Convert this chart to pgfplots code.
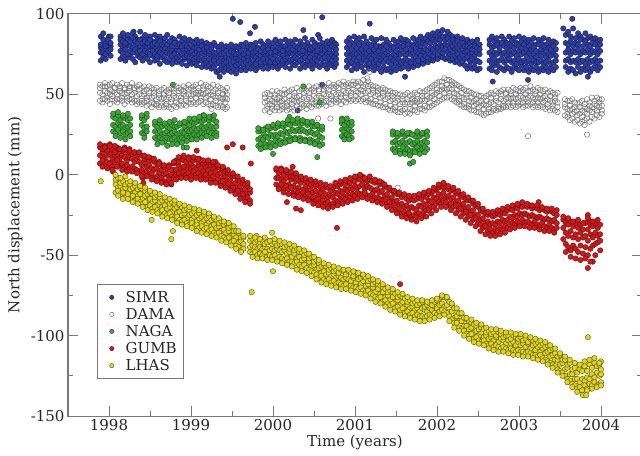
\documentclass[border=0pt]{standalone}
\usepackage{fontspec}
\setmainfont{DejaVu Serif}
\usepackage{pgfplots}
\pgfplotsset{compat=1.18}
\usepackage{pgfplotstable}

\definecolor{simr}{RGB}{45,62,160}
\definecolor{simrd}{RGB}{20,25,80}
\definecolor{naga}{RGB}{60,165,55}
\definecolor{nagad}{RGB}{25,70,20}
\definecolor{gumb}{RGB}{210,25,25}
\definecolor{gumbd}{RGB}{90,10,10}
\definecolor{lhas}{RGB}{225,215,25}
\definecolor{lhasd}{RGB}{70,65,10}
\definecolor{axgray}{RGB}{120,120,120}

\pgfplotstableread{
t a b c d e
1997.90 79 86 71 81 76
1997.93 78 88 73 84 76
1997.96 78 82 72 80 75
1997.99 80 85 76 84 77
1998.02 80 86 74 82 78
1998.14 81 86 72 84 77
1998.17 79 88 74 83 76
1998.20 80 85 71 82 78
1998.23 81 87 73 84 75
1998.26 80 84 75 83 77
1998.29 79 88 72 85 76
1998.32 82 86 70 83 78
1998.35 79 84 74 82 76
1998.38 80 89 73 84 77
1998.41 78 85 71 82 75
1998.44 81 87 74 83 77
1998.47 79 84 72 82 76
1998.50 80 86 70 84 75
1998.53 78 83 74 81 77
1998.56 79 87 71 82 75
1998.59 77 84 72 81 74
1998.62 80 86 69 83 76
1998.65 78 83 73 81 75
1998.68 79 85 71 82 74
1998.71 77 87 70 81 76
1998.74 80 83 72 83 75
1998.77 78 85 69 80 74
1998.80 76 84 72 82 75
1998.83 78 82 70 80 73
1998.86 77 86 71 81 74
1998.89 79 83 69 80 75
1998.92 76 85 72 81 73
1998.95 78 82 68 80 74
1998.98 76 84 71 79 73
1999.01 77 83 69 80 73
1999.04 75 82 70 79 72
1999.07 77 84 68 79 73
1999.10 75 81 71 78 72
1999.13 76 83 67 80 71
1999.16 74 81 69 78 72
1999.19 76 82 67 79 71
1999.22 75 81 68 77 72
1999.25 73 80 66 78 70
1999.28 75 82 67 76 71
1999.31 72 80 64 76 69
1999.34 74 79 65 77 70
1999.37 73 81 66 75 68
1999.40 71 78 64 76 69
1999.43 73 80 67 77 70
1999.46 72 79 65 75 68
1999.49 74 81 64 77 69
1999.52 72 78 66 76 70
1999.55 73 80 63 75 68
1999.58 71 79 66 76 69
1999.61 74 81 65 77 70
1999.64 72 80 67 75 69
1999.67 74 82 65 77 70
1999.70 73 79 67 76 71
1999.73 75 81 66 78 70
1999.76 74 80 68 76 71
1999.79 73 82 65 77 69
1999.82 75 79 67 78 71
1999.85 74 83 68 77 70
1999.88 76 81 66 79 72
1999.91 74 80 69 77 70
1999.94 75 83 66 78 71
1999.97 73 80 68 76 70
2000.00 76 82 67 79 72
2000.03 74 84 69 77 70
2000.06 76 81 66 79 71
2000.09 75 83 68 78 72
2000.12 74 80 69 77 71
2000.15 77 84 67 80 72
2000.18 75 81 70 78 73
2000.21 76 83 66 79 71
2000.24 75 81 69 78 72
2000.27 77 84 68 80 73
2000.30 75 80 70 79 72
2000.33 76 83 66 78 71
2000.36 74 81 69 77 72
2000.39 77 85 67 80 73
2000.42 75 82 70 79 71
2000.45 76 80 68 78 73
2000.48 75 84 66 79 71
2000.51 77 82 69 80 72
2000.54 74 81 68 77 71
2000.57 76 85 67 80 73
2000.60 75 82 69 79 72
2000.63 77 80 68 78 73
2000.66 75 83 66 79 71
2000.69 76 81 69 78 72
2000.72 74 84 68 80 71
2000.75 76 82 67 79 73
2000.77 75 81 69 78 72
2000.90 75 83 67 79 71
2000.93 77 85 69 81 73
2000.96 74 82 65 78 70
2000.99 76 86 68 80 72
2001.02 75 83 66 79 71
2001.05 77 85 69 81 73
2001.08 74 82 67 78 70
2001.11 76 86 64 80 72
2001.14 75 83 68 79 71
2001.17 73 81 66 77 69
2001.20 76 85 67 80 72
2001.23 74 82 65 78 70
2001.26 76 84 68 80 71
2001.29 73 80 66 77 69
2001.32 75 85 64 79 71
2001.35 74 81 67 78 70
2001.38 76 84 65 80 72
2001.41 74 82 66 77 70
2001.44 73 80 64 78 69
2001.47 75 84 67 79 71
2001.50 74 81 65 77 70
2001.53 76 83 68 80 72
2001.56 75 85 66 79 70
2001.59 76 82 67 80 71
2001.62 74 84 69 78 72
2001.65 77 83 66 81 71
2001.68 75 81 68 78 70
2001.71 76 85 67 80 72
2001.74 77 82 69 79 73
2001.77 75 84 68 81 71
2001.80 78 86 70 80 74
2001.83 76 83 69 82 72
2001.86 78 85 71 81 74
2001.89 77 87 70 83 73
2001.92 79 85 72 82 75
2001.95 78 88 71 84 74
2001.98 80 86 73 83 76
2002.01 79 89 72 85 75
2002.04 81 87 74 84 77
2002.07 80 90 73 86 76
2002.10 81 86 72 84 78
2002.13 80 89 73 85 76
2002.16 79 87 71 83 75
2002.19 80 86 72 84 76
2002.22 78 84 70 82 74
2002.25 79 86 71 83 75
2002.28 77 83 69 81 73
2002.31 78 85 70 82 74
2002.34 76 82 68 80 72
2002.37 77 84 66 80 73
2002.40 75 82 68 79 71
2002.43 76 83 66 78 72
2002.46 74 81 67 80 70
2002.49 76 84 65 79 71
2002.52 75 81 66 78 70
2002.64 76 84 66 81 71
2002.67 74 86 65 79 69
2002.70 76 83 68 80 72
2002.73 75 85 64 81 70
2002.76 77 82 67 79 71
2002.79 75 86 66 82 72
2002.82 76 84 65 80 70
2002.85 74 82 67 79 71
2002.88 77 86 66 81 72
2002.91 75 83 64 80 70
2002.94 76 85 67 79 71
2002.97 74 82 66 81 69
2003.00 77 86 65 80 72
2003.03 75 83 68 79 70
2003.06 76 85 65 81 71
2003.09 74 82 67 78 70
2003.12 76 84 64 80 71
2003.15 74 82 66 78 69
2003.18 75 85 65 79 71
2003.21 73 81 67 77 70
2003.24 76 84 64 81 70
2003.27 74 82 66 78 71
2003.30 76 85 65 80 69
2003.33 73 81 67 77 70
2003.36 75 84 64 79 71
2003.39 74 81 66 78 69
2003.42 76 83 65 80 70
2003.45 74 82 67 78 71
2003.57 76 87 67 82 71
2003.60 78 89 64 81 72
2003.63 75 86 66 83 70
2003.66 77 91 65 80 71
2003.69 76 85 63 82 70
2003.72 78 88 67 81 72
2003.75 75 86 64 84 70
2003.78 77 84 66 80 71
2003.81 76 88 65 83 69
2003.84 78 85 67 81 72
2003.87 75 86 64 80 70
2003.90 77 84 66 82 71
2003.93 76 85 68 81 72
2003.96 75 83 65 79 70
2003.99 77 84 67 81 71
1999.51 97 nan nan nan nan
1999.60 95 nan nan nan nan
1999.78 92 nan nan nan nan
1999.72 88 nan nan nan nan
2000.60 98 nan nan nan nan
2000.55 87 nan nan nan nan
2000.37 90 nan nan nan nan
1999.35 61 nan nan nan nan
1999.32 64 nan nan nan nan
2000.30 40 nan nan nan nan
2000.60 56 nan nan nan nan
2003.65 97 nan nan nan nan
2003.54 91 nan nan nan nan
2001.18 94 nan nan nan nan
2003.11 59 nan nan nan nan
2002.68 58 nan nan nan nan
2003.84 61 nan nan nan nan
2001.61 61 nan nan nan nan
1998.30 89 nan nan nan nan
1998.00 86 nan nan nan nan
}\simrtab

\pgfplotstableread{
t a b c d
1997.89 51 56 46 54
1997.92 50 55 45 47
1997.95 52 57 47 55
1997.98 51 55 46 48
1998.01 50 56 44 53
1998.04 52 57 47 49
1998.07 51 54 46 54
1998.10 50 56 45 47
1998.13 52 55 47 54
1998.16 51 57 46 48
1998.19 50 54 44 53
1998.22 51 56 46 48
1998.25 52 55 47 54
1998.28 50 57 45 47
1998.31 51 54 46 53
1998.34 49 55 44 46
1998.37 50 56 45 53
1998.40 49 54 44 46
1998.43 50 55 45 52
1998.46 48 53 43 46
1998.49 49 55 44 51
1998.52 48 54 42 45
1998.55 49 53 44 51
1998.58 47 54 43 44
1998.61 48 52 42 50
1998.64 47 53 43 45
1998.67 48 54 42 50
1998.70 47 52 43 44
1998.73 48 53 42 51
1998.76 47 54 41 45
1998.79 49 53 43 51
1998.82 48 55 42 45
1998.85 49 54 44 52
1998.88 48 53 43 46
1998.91 50 55 44 52
1998.94 49 54 43 46
1998.97 50 56 45 53
1999.00 49 54 44 47
1999.03 50 55 45 53
1999.06 51 56 44 48
1999.09 50 54 45 52
1999.12 51 57 46 48
1999.15 50 55 44 53
1999.18 51 56 45 48
1999.21 49 55 44 52
1999.24 50 54 43 47
1999.27 49 56 44 52
1999.30 48 53 43 46
1999.33 49 55 42 51
1999.36 48 54 43 45
1999.39 47 53 42 50
1999.42 48 52 41 45
1999.44 47 54 42 50
1999.90 45 50 40 48
1999.93 46 51 41 43
1999.96 44 50 39 47
1999.99 46 52 41 43
2000.02 45 50 40 48
2000.05 47 52 42 44
2000.08 45 51 40 48
2000.11 46 50 41 43
2000.14 47 53 42 50
2000.17 45 51 40 43
2000.20 46 52 41 49
2000.23 47 53 42 44
2000.26 46 51 40 49
2000.29 48 54 43 45
2000.32 46 52 41 49
2000.35 47 53 42 44
2000.38 48 54 43 51
2000.41 47 52 41 44
2000.44 48 55 43 51
2000.47 47 53 42 45
2000.50 49 54 44 52
2000.53 48 55 43 45
2000.56 49 53 43 52
2000.59 48 56 44 46
2000.62 50 55 45 53
2000.65 49 54 43 46
2000.68 50 57 45 53
2000.71 49 55 44 47
2000.74 51 56 46 54
2000.77 50 55 45 47
2000.80 51 57 46 54
2000.83 50 56 44 48
2000.86 52 58 46 55
2000.89 51 56 45 48
2000.92 52 57 47 55
2000.95 51 56 46 49
2000.98 53 58 47 56
2001.01 52 57 46 49
2001.04 51 58 47 55
2001.07 53 57 46 50
2001.10 52 59 47 55
2001.13 51 56 45 48
2001.16 52 58 46 55
2001.19 50 56 45 47
2001.22 51 55 44 53
2001.25 49 55 44 46
2001.28 50 54 43 52
2001.31 48 53 43 45
2001.34 49 54 42 51
2001.37 47 53 42 44
2001.40 48 52 41 50
2001.43 46 52 40 43
2001.46 47 51 41 49
2001.49 45 51 40 42
2001.52 46 50 39 48
2001.55 44 50 39 41
2001.58 45 49 40 47
2001.61 44 50 38 41
2001.64 45 51 39 47
2001.67 44 49 38 41
2001.70 45 50 40 47
2001.73 46 51 40 43
2001.76 45 50 39 47
2001.79 46 52 41 43
2001.82 47 51 41 49
2001.85 46 52 40 43
2001.88 47 53 42 49
2001.91 48 54 42 45
2001.94 49 55 43 51
2001.97 50 56 44 47
2002.00 51 57 45 53
2002.03 52 58 46 49
2002.06 53 58 47 55
2002.09 54 60 48 51
2002.12 53 59 48 56
2002.15 54 59 49 51
2002.18 53 58 47 56
2002.21 51 57 46 48
2002.24 50 56 45 53
2002.27 49 55 44 46
2002.30 48 54 43 51
2002.33 47 53 42 44
2002.36 48 52 42 50
2002.39 46 52 41 43
2002.42 45 51 40 48
2002.45 46 50 40 43
2002.48 44 50 39 47
2002.51 45 49 39 42
2002.54 43 49 38 46
2002.57 44 48 37 41
2002.60 43 49 38 46
2002.63 44 50 39 41
2002.66 45 51 39 48
2002.69 44 50 40 41
2002.72 46 52 40 48
2002.75 45 51 41 42
2002.78 47 52 41 50
2002.81 46 53 42 43
2002.84 47 51 42 50
2002.87 48 53 43 45
2002.90 47 52 42 50
2002.93 48 54 43 45
2002.96 47 53 42 50
2002.99 48 52 43 45
2003.02 49 54 44 52
2003.05 48 53 42 45
2003.08 47 54 43 50
2003.11 48 52 43 45
2003.14 49 55 44 52
2003.17 48 53 42 45
2003.20 47 52 43 50
2003.23 48 54 42 45
2003.26 47 53 43 50
2003.29 48 52 42 45
2003.32 46 53 41 49
2003.35 47 51 42 44
2003.38 46 52 40 49
2003.41 45 51 41 43
2003.44 46 50 40 48
2003.47 45 51 39 42
2003.56 42 47 37 44
2003.59 41 46 36 38
2003.62 40 46 34 43
2003.65 41 47 35 38
2003.68 39 45 33 42
2003.71 40 44 34 37
2003.74 38 45 32 42
2003.77 40 46 33 36
2003.80 39 44 34 42
2003.83 41 47 35 38
2003.86 40 45 33 43
2003.89 42 48 36 39
2003.92 41 46 35 44
2003.95 43 48 37 40
2003.98 42 47 36 45
2004.01 43 47 38 40
2003.11 24 nan nan nan
2003.83 25 nan nan nan
2003.80 31 nan nan nan
2001.18 64 nan nan nan
2001.15 60 nan nan nan
2000.55 35 nan nan nan
2000.70 35 nan nan nan
1999.25 41 nan nan nan
2001.52 -8 nan nan nan
}\damatab

\pgfplotstableread{
t a b c d
1998.05 31 36 27 38
1998.08 30 35 26 24
1998.11 32 37 28 39
1998.14 30 34 26 23
1998.17 31 36 27 37
1998.20 29 35 25 22
1998.23 30 34 26 38
1998.26 31 35 27 24
1998.40 31 35 26 37
1998.43 29 34 25 23
1998.46 30 36 27 38
1998.56 27 31 23 33
1998.59 26 30 22 19
1998.62 27 32 23 34
1998.65 25 30 22 20
1998.68 26 31 21 32
1998.71 27 30 23 18
1998.74 25 29 22 33
1998.77 26 31 22 19
1998.80 27 30 23 34
1998.83 25 30 21 19
1998.86 26 31 22 32
1998.89 27 32 23 20
1998.92 26 30 22 33
1998.95 28 32 24 21
1998.98 27 31 23 35
1999.01 28 33 24 22
1999.04 29 32 25 35
1999.07 28 33 24 22
1999.10 29 34 25 36
1999.13 30 33 26 23
1999.16 29 34 25 37
1999.19 30 35 26 24
1999.22 31 34 27 36
1999.25 30 35 26 23
1999.28 29 34 25 37
1999.31 30 33 26 24
1999.82 22 27 18 29
1999.85 23 28 19 16
1999.88 22 26 17 28
1999.91 24 29 19 17
1999.94 23 28 18 30
1999.97 25 29 20 17
2000.00 24 30 19 31
2000.03 25 29 21 18
2000.06 24 30 20 32
2000.09 26 31 21 19
2000.12 25 30 20 32
2000.15 27 31 22 20
2000.18 26 32 21 34
2000.21 27 31 23 21
2000.24 28 33 22 34
2000.27 27 32 23 22
2000.30 28 33 22 35
2000.33 27 31 23 21
2000.36 28 32 22 34
2000.39 27 33 22 21
2000.42 26 31 21 33
2000.45 27 32 22 20
2000.48 26 30 21 33
2000.51 25 30 20 19
2000.54 26 31 21 31
2000.57 24 29 19 18
2000.60 23 28 19 30
2000.84 28 32 24 34
2000.87 27 31 23 22
2000.90 29 33 25 35
2000.93 28 32 24 22
2000.96 27 31 23 33
2001.46 20 25 16 27
2001.49 21 26 16 14
2001.52 19 24 15 26
2001.55 20 25 15 13
2001.58 21 26 17 27
2001.61 19 24 14 13
2001.64 20 25 16 26
2001.67 21 26 15 12
2001.70 19 25 14 25
2001.73 20 24 16 14
2001.76 21 26 17 27
2001.79 19 24 15 13
2001.82 20 25 16 26
2001.85 21 26 17 14
2001.88 20 24 16 27
1998.78 56 nan nan nan
1998.91 17 nan nan nan
1998.95 17 nan nan nan
2000.00 13 nan nan nan
2000.54 11 nan nan nan
2001.67 7 nan nan nan
2001.71 8 nan nan nan
2000.37 55 nan nan nan
2000.57 45 nan nan nan
2000.20 36 nan nan nan
2000.84 35 nan nan nan
1999.25 36 nan nan nan
1999.15 37 nan nan nan
}\nagatab

\pgfplotstableread{
t a b c d
1997.89 12 17 7 19
1997.92 14 16 9 5
1997.95 11 18 6 17
1997.98 12 15 8 4
1998.01 13 19 7 18
1998.04 10 16 5 3
1998.07 12 14 8 18
1998.10 13 17 9 5
1998.13 10 16 6 16
1998.16 12 15 7 3
1998.19 11 17 5 16
1998.22 9 14 6 2
1998.25 11 16 4 15
1998.28 10 13 5 2
1998.31 8 14 4 14
1998.34 10 12 3 1
1998.37 8 13 2 14
1998.40 6 12 3 -1
1998.43 8 10 1 12
1998.46 5 11 2 -1
1998.49 6 9 0 11
1998.52 4 10 1 -3
1998.55 3 8 -2 10
1998.58 4 7 -1 -4
1998.61 1 8 -3 7
1998.64 3 6 -2 -5
1998.67 0 5 -4 6
1998.70 1 4 -5 -6
1998.73 -1 6 -3 5
1998.76 0 3 -6 -5
1998.79 3 7 -2 8
1998.82 3 9 0 -3
1998.85 6 8 1 11
1998.88 4 10 -1 -2
1998.91 5 9 2 12
1998.94 3 8 0 -2
1998.97 6 11 1 10
1999.00 4 7 -1 -3
1999.03 5 9 2 11
1999.06 3 10 0 -2
1999.09 6 8 1 10
1999.12 4 9 -1 -3
1999.15 2 7 -2 9
1999.18 5 8 0 -3
1999.21 3 8 -2 9
1999.24 1 6 -3 -5
1999.27 4 7 -1 8
1999.30 2 8 -4 -5
1999.33 0 5 -3 6
1999.36 1 4 -5 -7
1999.39 -2 4 -4 5
1999.42 -1 2 -7 -8
1999.45 -4 1 -6 3
1999.48 -3 0 -9 -10
1999.51 -6 -1 -8 1
1999.54 -5 -1 -11 -12
1999.57 -8 -3 -10 -1
1999.60 -7 -4 -13 -15
1999.63 -10 -5 -12 -3
1999.66 -9 -6 -15 -17
1999.69 -12 -7 -14 -5
1999.72 -11 -9 -16 -18
2000.04 -2 3 -6 4
2000.07 -2 1 -8 -9
2000.10 -3 4 -6 3
2000.13 -4 0 -9 -11
2000.16 -2 2 -7 3
2000.19 -6 1 -9 -12
2000.22 -3 -1 -8 2
2000.25 -7 -1 -11 -13
2000.28 -4 0 -10 1
2000.31 -8 -3 -11 -14
2000.34 -5 -2 -12 -1
2000.37 -9 -3 -11 -15
2000.40 -7 -4 -13 -2
2000.43 -10 -5 -12 -16
2000.46 -9 -6 -15 -3
2000.49 -11 -5 -14 -18
2000.52 -10 -7 -16 -4
2000.55 -13 -6 -15 -19
2000.58 -11 -8 -17 -5
2000.61 -14 -9 -16 -20
2000.64 -12 -7 -18 -6
2000.67 -14 -8 -17 -21
2000.70 -13 -10 -19 -7
2000.73 -14 -8 -18 -20
2000.76 -11 -7 -16 -5
2000.79 -12 -7 -17 -19
2000.82 -10 -6 -15 -4
2000.85 -11 -5 -14 -18
2000.88 -9 -6 -15 -3
2000.91 -10 -4 -13 -17
2000.94 -8 -5 -14 -2
2000.97 -9 -3 -12 -16
2001.00 -7 -4 -13 -1
2001.03 -8 -2 -11 -15
2001.06 -7 -3 -12 0
2001.09 -6 -1 -12 -14
2001.12 -9 -3 -11 -2
2001.15 -7 -4 -13 -15
2001.18 -8 -3 -13 -1
2001.21 -9 -4 -12 -16
2001.24 -10 -5 -14 -3
2001.27 -9 -4 -14 -17
2001.30 -11 -6 -15 -4
2001.33 -10 -5 -16 -18
2001.36 -13 -7 -16 -6
2001.39 -12 -8 -18 -20
2001.42 -15 -9 -17 -8
2001.45 -14 -10 -20 -22
2001.48 -17 -11 -19 -10
2001.51 -16 -12 -22 -24
2001.54 -19 -12 -21 -11
2001.57 -18 -14 -24 -26
2001.60 -20 -13 -23 -12
2001.63 -19 -15 -25 -27
2001.66 -21 -16 -24 -13
2001.69 -20 -15 -26 -28
2001.72 -21 -16 -25 -13
2001.75 -22 -15 -26 -29
2001.78 -19 -14 -24 -12
2001.81 -20 -15 -25 -27
2001.84 -18 -13 -23 -11
2001.87 -19 -14 -22 -26
2001.90 -16 -12 -22 -10
2001.93 -17 -11 -20 -24
2001.96 -14 -10 -20 -8
2001.99 -15 -9 -18 -22
2002.02 -12 -8 -17 -6
2002.05 -14 -7 -18 -20
2002.08 -11 -8 -16 -5
2002.11 -14 -7 -17 -20
2002.14 -13 -9 -19 -7
2002.17 -15 -10 -18 -22
2002.20 -14 -9 -20 -8
2002.23 -17 -11 -19 -24
2002.26 -16 -12 -22 -10
2002.29 -19 -13 -21 -26
2002.32 -18 -14 -24 -12
2002.35 -21 -15 -23 -28
2002.38 -20 -16 -26 -14
2002.41 -23 -16 -25 -30
2002.44 -22 -18 -28 -16
2002.47 -25 -19 -27 -32
2002.50 -25 -20 -30 -18
2002.53 -28 -22 -31 -35
2002.56 -27 -23 -33 -21
2002.59 -30 -24 -32 -37
2002.62 -29 -25 -35 -23
2002.65 -31 -24 -34 -38
2002.68 -30 -26 -36 -23
2002.71 -31 -25 -34 -38
2002.74 -29 -24 -35 -22
2002.77 -30 -25 -33 -37
2002.80 -28 -23 -34 -21
2002.83 -29 -24 -32 -36
2002.86 -28 -22 -33 -20
2002.89 -26 -21 -31 -34
2002.92 -27 -22 -30 -19
2002.95 -25 -20 -31 -33
2002.98 -26 -21 -29 -18
2003.01 -24 -19 -30 -32
2003.04 -25 -20 -28 -17
2003.07 -24 -19 -30 -32
2003.10 -25 -20 -29 -18
2003.13 -26 -19 -30 -33
2003.16 -25 -21 -31 -19
2003.19 -26 -20 -29 -33
2003.22 -27 -21 -31 -19
2003.25 -26 -22 -32 -34
2003.28 -27 -21 -30 -20
2003.31 -28 -22 -32 -35
2003.34 -27 -23 -33 -21
2003.37 -28 -22 -31 -35
2003.40 -29 -23 -33 -21
2003.43 -28 -24 -34 -36
2003.46 -30 -25 -33 -22
2003.54 -33 -28 -40 -26
2003.57 -36 -30 -43 -48
2003.60 -38 -31 -45 -27
2003.63 -35 -29 -47 -51
2003.66 -39 -32 -44 -29
2003.69 -37 -30 -46 -52
2003.72 -40 -33 -48 -28
2003.75 -36 -31 -44 -53
2003.78 -39 -34 -49 -30
2003.81 -38 -30 -45 -52
2003.84 -41 -34 -50 -27
2003.87 -37 -31 -46 -54
2003.90 -39 -32 -44 -29
2003.93 -36 -30 -43 -50
2003.96 -38 -33 -42 -28
2003.99 -37 -31 -41 -47
1998.05 2 nan nan nan
1998.28 4 nan nan nan
1998.41 -2 nan nan nan
1998.42 -5 nan nan nan
1999.07 15 nan nan nan
1999.10 10 nan nan nan
1999.44 17 nan nan nan
1999.51 19 nan nan nan
1999.63 17 nan nan nan
1999.73 7 nan nan nan
2000.24 5 nan nan nan
2000.17 -17 nan nan nan
2000.27 -13 nan nan nan
2000.28 -21 nan nan nan
2000.34 -22 nan nan nan
2000.78 -33 nan nan nan
2001.55 -68 nan nan nan
2003.24 -17 nan nan nan
2003.84 -25 nan nan nan
2003.85 -28 nan nan nan
2003.84 -58 nan nan nan
2003.90 -54 nan nan nan
}\gumbtab

\pgfplotstableread{
t a b c d
1998.08 -6 -3 -11 0
1998.11 -8 -2 -10 -13
1998.14 -7 -5 -12 -2
1998.17 -9 -4 -11 -15
1998.20 -8 -6 -14 -1
1998.23 -11 -5 -12 -15
1998.26 -9 -6 -15 -4
1998.29 -12 -8 -13 -17
1998.32 -11 -7 -16 -5
1998.35 -13 -9 -15 -18
1998.38 -12 -8 -17 -7
1998.41 -15 -9 -18 -20
1998.44 -13 -10 -17 -8
1998.47 -16 -12 -20 -22
1998.50 -15 -11 -19 -10
1998.53 -17 -12 -21 -23
1998.56 -16 -14 -20 -11
1998.59 -19 -13 -22 -24
1998.62 -17 -14 -23 -12
1998.65 -20 -16 -22 -26
1998.68 -19 -15 -24 -14
1998.71 -21 -16 -25 -27
1998.74 -20 -18 -24 -15
1998.77 -23 -17 -26 -28
1998.80 -21 -18 -27 -16
1998.83 -24 -20 -26 -30
1998.86 -23 -19 -28 -18
1998.89 -25 -20 -29 -31
1998.92 -24 -22 -28 -19
1998.95 -27 -21 -30 -32
1998.98 -25 -22 -31 -20
1999.01 -28 -24 -30 -33
1999.04 -26 -23 -32 -21
1999.07 -29 -25 -31 -35
1999.10 -27 -24 -33 -22
1999.13 -30 -26 -32 -36
1999.16 -28 -25 -34 -23
1999.19 -31 -27 -33 -37
1999.22 -29 -26 -35 -24
1999.25 -32 -28 -34 -38
1999.28 -31 -27 -36 -26
1999.31 -33 -28 -37 -39
1999.34 -32 -30 -36 -27
1999.37 -35 -29 -38 -41
1999.40 -34 -31 -39 -29
1999.43 -36 -30 -40 -42
1999.46 -35 -33 -39 -30
1999.49 -38 -32 -42 -44
1999.52 -37 -35 -41 -32
1999.55 -39 -35 -44 -46
1999.58 -42 -36 -45 -35
1999.61 -41 -39 -47 -48
1999.64 -43 -39 -46 -38
1999.72 -45 -41 -48 -38
1999.75 -44 -40 -49 -51
1999.78 -45 -42 -48 -39
1999.81 -46 -41 -50 -52
1999.84 -45 -42 -49 -40
1999.87 -46 -41 -50 -52
1999.90 -45 -43 -48 -39
1999.93 -46 -42 -51 -53
1999.96 -47 -41 -50 -41
1999.99 -46 -43 -51 -53
2000.02 -47 -42 -50 -40
2000.05 -46 -44 -52 -54
2000.08 -47 -43 -51 -41
2000.11 -48 -43 -52 -55
2000.14 -47 -45 -53 -42
2000.17 -49 -44 -52 -56
2000.20 -48 -46 -54 -43
2000.23 -51 -45 -54 -57
2000.26 -49 -47 -55 -44
2000.29 -52 -46 -54 -59
2000.32 -51 -48 -56 -46
2000.35 -53 -48 -57 -60
2000.38 -52 -50 -56 -47
2000.41 -55 -49 -58 -61
2000.44 -54 -52 -59 -49
2000.47 -57 -51 -60 -63
2000.50 -56 -54 -61 -51
2000.53 -59 -53 -62 -65
2000.56 -58 -55 -64 -53
2000.59 -61 -57 -63 -67
2000.62 -60 -56 -65 -55
2000.65 -62 -57 -66 -68
2000.68 -61 -59 -65 -56
2000.71 -63 -58 -67 -69
2000.74 -62 -60 -66 -57
2000.77 -64 -59 -68 -70
2000.80 -63 -61 -67 -58
2000.83 -64 -59 -68 -71
2000.86 -65 -60 -69 -59
2000.89 -64 -62 -68 -71
2000.92 -65 -60 -70 -59
2000.95 -66 -61 -69 -72
2000.98 -64 -63 -70 -60
2001.01 -67 -61 -70 -73
2001.04 -65 -62 -71 -61
2001.07 -68 -64 -70 -74
2001.10 -66 -63 -72 -62
2001.13 -69 -64 -73 -75
2001.16 -68 -66 -72 -63
2001.19 -71 -65 -74 -77
2001.22 -70 -68 -75 -65
2001.25 -73 -67 -76 -79
2001.28 -71 -68 -77 -66
2001.31 -74 -69 -76 -80
2001.34 -73 -70 -79 -68
2001.37 -76 -71 -78 -82
2001.40 -75 -73 -80 -70
2001.43 -78 -72 -81 -84
2001.46 -76 -73 -80 -71
2001.49 -79 -74 -83 -85
2001.52 -78 -76 -82 -73
2001.55 -81 -75 -84 -87
2001.58 -79 -76 -83 -74
2001.61 -82 -77 -86 -88
2001.64 -81 -79 -85 -76
2001.67 -83 -78 -87 -89
2001.70 -82 -80 -86 -77
2001.73 -84 -79 -88 -90
2001.76 -83 -81 -87 -78
2001.79 -85 -80 -88 -91
2001.82 -83 -79 -88 -78
2001.85 -84 -82 -89 -91
2001.88 -85 -81 -88 -79
2001.91 -83 -80 -87 -90
2001.94 -84 -81 -88 -78
2001.97 -82 -79 -86 -89
2002.00 -83 -78 -87 -77
2002.03 -81 -77 -85 -88
2002.06 -80 -76 -84 -75
2002.09 -82 -76 -85 -87
2002.12 -81 -77 -86 -76
2002.15 -85 -79 -88 -91
2002.18 -85 -81 -90 -80
2002.21 -89 -83 -92 -95
2002.24 -88 -85 -92 -83
2002.27 -91 -86 -95 -97
2002.30 -91 -87 -96 -86
2002.33 -94 -89 -97 -100
2002.36 -94 -90 -99 -89
2002.39 -96 -91 -100 -102
2002.42 -95 -92 -99 -90
2002.45 -98 -93 -102 -104
2002.48 -97 -94 -101 -92
2002.51 -100 -96 -103 -105
2002.54 -98 -95 -104 -93
2002.57 -101 -96 -103 -106
2002.60 -100 -98 -105 -95
2002.63 -102 -97 -106 -108
2002.66 -101 -99 -105 -96
2002.69 -103 -98 -107 -109
2002.72 -101 -100 -106 -96
2002.75 -104 -98 -107 -110
2002.78 -102 -99 -108 -97
2002.81 -103 -101 -107 -110
2002.84 -105 -100 -108 -98
2002.87 -103 -100 -109 -111
2002.90 -105 -102 -108 -98
2002.93 -104 -100 -109 -112
2002.96 -106 -101 -110 -99
2002.99 -104 -102 -109 -112
2003.02 -106 -101 -110 -99
2003.05 -105 -103 -110 -113
2003.08 -107 -102 -111 -100
2003.11 -105 -104 -110 -113
2003.14 -108 -102 -111 -101
2003.17 -106 -103 -112 -114
2003.20 -109 -105 -112 -102
2003.23 -107 -104 -113 -115
2003.26 -110 -106 -112 -103
2003.29 -108 -105 -114 -116
2003.32 -111 -107 -115 -104
2003.35 -110 -106 -116 -118
2003.38 -113 -109 -117 -106
2003.41 -112 -108 -118 -120
2003.44 -115 -111 -119 -108
2003.47 -115 -113 -121 -123
2003.50 -118 -112 -122 -111
2003.53 -117 -115 -123 -125
2003.56 -121 -115 -125 -113
2003.59 -120 -118 -127 -129
2003.62 -124 -117 -128 -115
2003.65 -124 -121 -130 -132
2003.68 -127 -120 -131 -117
2003.71 -127 -123 -133 -135
2003.74 -129 -121 -132 -118
2003.77 -127 -122 -134 -134
2003.80 -128 -119 -131 -116
2003.83 -126 -122 -133 -134
2003.86 -127 -118 -130 -115
2003.89 -124 -120 -131 -133
2003.92 -126 -117 -129 -114
2003.95 -123 -119 -131 -132
2003.98 -125 -118 -130 -117
2004.00 -124 -121 -129 -131
1997.90 -4 nan nan nan
1998.52 -28 nan nan nan
1998.76 -40 nan nan nan
1998.78 -35 nan nan nan
1999.74 -73 nan nan nan
2000.00 -60 nan nan nan
1999.99 -36 nan nan nan
1999.80 -38 nan nan nan
2003.84 -101 nan nan nan
2003.78 -137 nan nan nan
2003.82 -137 nan nan nan
2004.00 -116 nan nan nan
2003.97 -119 nan nan nan
}\lhastab

\pgfplotsset{
  simrst/.style={only marks, mark=*, mark size=2.7pt, color=simrd, mark options={fill=simr, line width=0.35pt}},
  damast/.style={only marks, mark=o, mark size=2.7pt, color=black!55, mark options={line width=0.5pt}},
  nagast/.style={only marks, mark=*, mark size=2.7pt, color=nagad, mark options={fill=naga, line width=0.35pt}},
  gumbst/.style={only marks, mark=*, mark size=2.7pt, color=gumbd, mark options={fill=gumb, line width=0.35pt}},
  lhasst/.style={only marks, mark=*, mark size=2.7pt, color=lhasd, mark options={fill=lhas, line width=0.35pt}},
}

\begin{document}
\begin{tikzpicture}
\begin{axis}[
  name=ax,
  width=574pt, height=402pt, scale only axis,
  xmin=1997.5, xmax=2004.5, ymin=-150, ymax=100,
  xtick={1998,1999,2000,2001,2002,2003,2004},
  ytick={-150,-100,-50,0,50,100},
  minor x tick num=1, minor y tick num=1,
  major tick length=10pt, minor tick length=5pt,
  tick align=inside,
  axis line style={axgray, line width=1pt},
  tick style={axgray, line width=1pt},
  /pgf/number format/1000 sep={},
  /pgf/number format/assume math mode=true,
  tick label style={font=\fontsize{15}{18}\selectfont, text=black!85},
  xlabel={Time (years)}, ylabel={North displacement (mm)},
  every axis x label/.style={at={(axis description cs:0.5,-0.067)}, anchor=center, font=\fontsize{15}{18}\selectfont, text=black!85},
  every axis y label/.style={at={(axis description cs:-0.092,0.5)}, rotate=90, anchor=center, font=\fontsize{15}{18}\selectfont, text=black!85},
  legend style={at={(axis description cs:0.0505,0.328)}, anchor=north west, draw=axgray, line width=0.8pt, font=\fontsize{15}{18}\selectfont, inner xsep=5pt, inner ysep=5pt, row sep=1.5pt, nodes={inner sep=1.5pt}, text=black!85},
  legend cell align=left,
  legend image code/.code={\path (0pt,0pt) (21pt,0pt); \draw[mark size=2.2pt] plot coordinates {(9pt,0pt)};},
]
\addplot[simrst] table[x=t, y=a] {\simrtab};
\addlegendentry{SIMR}
\addplot[simrst, forget plot] table[x=t, y=b] {\simrtab};
\addplot[simrst, forget plot] table[x=t, y=c] {\simrtab};
\addplot[simrst, forget plot] table[x=t, y=d] {\simrtab};
\addplot[simrst, forget plot] table[x=t, y=e] {\simrtab};

\addplot[damast] table[x=t, y=a] {\damatab};
\addlegendentry{DAMA}
\addplot[damast, forget plot] table[x=t, y=b] {\damatab};
\addplot[damast, forget plot] table[x=t, y=c] {\damatab};
\addplot[damast, forget plot] table[x=t, y=d] {\damatab};

\addplot[nagast] table[x=t, y=a] {\nagatab};
\addlegendentry{NAGA}
\addplot[nagast, forget plot] table[x=t, y=b] {\nagatab};
\addplot[nagast, forget plot] table[x=t, y=c] {\nagatab};
\addplot[nagast, forget plot] table[x=t, y=d] {\nagatab};

\addplot[gumbst] table[x=t, y=a] {\gumbtab};
\addlegendentry{GUMB}
\addplot[gumbst, forget plot] table[x=t, y=b] {\gumbtab};
\addplot[gumbst, forget plot] table[x=t, y=c] {\gumbtab};
\addplot[gumbst, forget plot] table[x=t, y=d] {\gumbtab};

\addplot[lhasst] table[x=t, y=a] {\lhastab};
\addlegendentry{LHAS}
\addplot[lhasst, forget plot] table[x=t, y=b] {\lhastab};
\addplot[lhasst, forget plot] table[x=t, y=c] {\lhastab};
\addplot[lhasst, forget plot] table[x=t, y=d] {\lhastab};
\end{axis}
\pgfresetboundingbox
\path[use as bounding box] ([xshift=-68pt,yshift=-39pt]ax.south west) rectangle ([xshift=-2pt,yshift=14pt]ax.north east);
\end{tikzpicture}
\end{document}
